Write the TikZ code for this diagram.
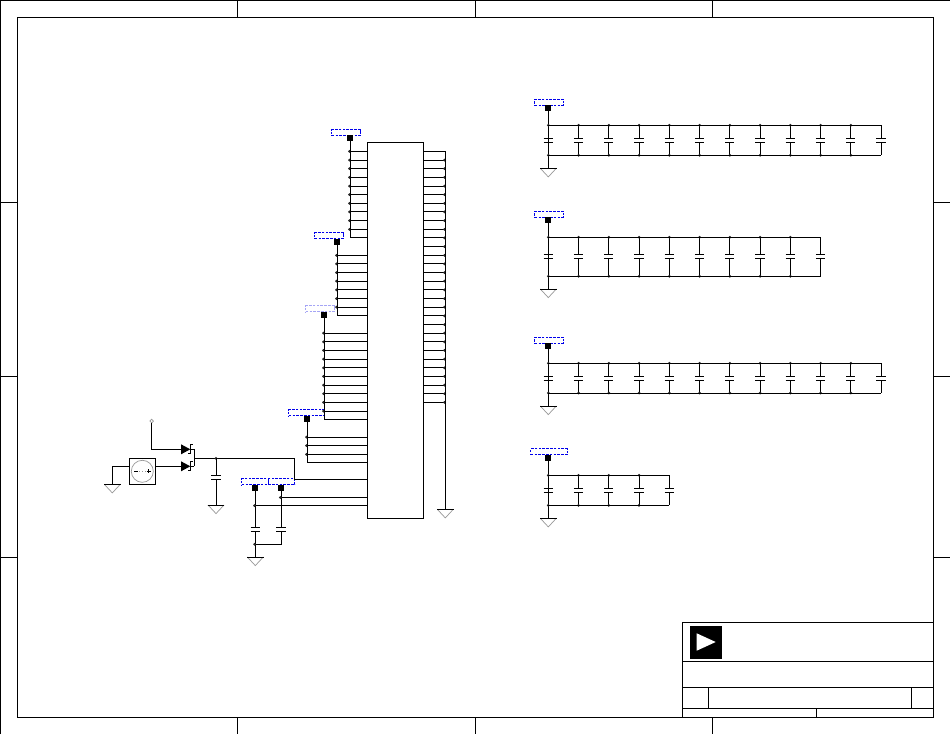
\documentclass[tikz,border=0pt]{standalone}
\usetikzlibrary{calc}
\definecolor{netblue}{RGB}{0,0,235}
\definecolor{paleblue}{RGB}{165,165,245}
\tikzset{
  x=1pt,y=-1pt,
  wire/.style={line width=1pt,black,line cap=butt,line join=miter},
  frameline/.style={line width=1pt,black},
  netbox/.style={draw=netblue,line width=1pt,dash pattern=on 2.6pt off 1.2pt,inner sep=0pt,minimum height=6pt,anchor=north west},
  palebox/.style={netbox,draw=paleblue},
  portsq/.style={fill=black,draw=none,inner sep=0pt,minimum size=6pt},
  chipbox/.style={draw,line width=1pt,inner sep=0pt,anchor=north west,minimum width=56pt,minimum height=376pt},
  junct/.style={fill=black!85,draw=none,circle,inner sep=0pt,minimum size=3pt},
  gndsym/.pic={
    \draw[line width=0.7pt,black!40] (-8,0) -- (0,8.6) -- (8,0);
    \draw[wire] (-8.3,0) -- (8.3,0);
  },
  capsym/.pic={
    \draw[wire] (-4.6,0) -- (4.6,0) (-4.6,4) -- (4.6,4);
  }
}
% pin y coordinate: 151.4 + 8.655 i
\newcommand{\piny}[1]{\pgfmathsetmacro{\py}{151.4+8.655*#1}}
% capacitor bank: y-label, y-square, y-top, y-plate, y-bottom, y-ground, last index, name
\newcommand{\capbank}[9]{%
  \node[netbox,minimum width=#8pt] (lab#1) at (#9,#2) {};
  \node[portsq] (sq#1) at (548.3,#3) {};
  \coordinate (gnd#1) at (548.3,#6);
  \pic at (gnd#1) {gndsym};
  \draw[wire] (sq#1.center) -- (gnd#1);
  \foreach \k in {0,...,#7}{
    \pgfmathsetmacro{\cx}{548.3+30.25*\k}
    \coordinate (t#1\k) at (\cx,#4);
    \coordinate (b#1\k) at (\cx,#5);
    \coordinate (pa#1\k) at (\cx,{#4+(#5-#4)/2-2});
    \coordinate (pb#1\k) at (\cx,{#4+(#5-#4)/2+2});
    \draw[wire] (t#1\k) -- (pa#1\k) (pb#1\k) -- (b#1\k);
    \pic at (pa#1\k) {capsym};
    \pgfmathtruncatemacro{\isl}{\k==#7?1:0}
    \ifnum\isl=0
      \node[junct] at (t#1\k) {};
      \node[junct] at (b#1\k) {};
    \fi
  }
  \draw[wire] (t#10) -- (t#1#7) (b#10) -- (b#1#7);
}
\begin{document}
\begin{tikzpicture}
\useasboundingbox (0,0) rectangle (950,734);
\fill[white] (0,0) rectangle (950,734);
% sheet frame
\draw[frameline] (0.5,734) -- (0.5,0.5) -- (950,0.5);
\draw[frameline] (17.3,17.3) rectangle (933.3,717.3);
\foreach \tx in {237.3,475.3,712.3}{
  \draw[frameline] (\tx,0.5) -- (\tx,17.3);
  \draw[frameline] (\tx,717.3) -- (\tx,734);
}
\foreach \ty in {202.7,376.3,557.3}{
  \draw[frameline] (0.5,\ty) -- (17.3,\ty);
  \draw[frameline] (933.3,\ty) -- (950,\ty);
}
% title block
\draw[frameline] (682.3,717.3) -- (682.3,622.3) -- (933.3,622.3);
\draw[frameline] (682.3,661.7) -- (933.3,661.7);
\draw[frameline] (682.3,687.3) -- (933.3,687.3);
\draw[frameline] (682.3,708.3) -- (933.3,708.3);
\draw[frameline] (708.3,687.3) -- (708.3,708.3);
\draw[frameline] (911.3,687.3) -- (911.3,708.3);
\draw[frameline] (816.3,708.3) -- (816.3,717.3);
\fill[black] (690,626) rectangle (722.3,658.7);
\fill[white] (696.7,633.3) -- (715.7,642) -- (696.7,650.7) -- cycle;
% chip
\node[chipbox] (chip) at (367.3,142.3) {};
% net ports
\node[netbox,minimum width=28.4pt] (lab1) at (331.3,129.3) {};
\node[portsq] (p1) at (350.3,138.3) {};
\node[netbox,minimum width=28.4pt] (lab2) at (314.3,232.3) {};
\node[portsq] (p2) at (337.3,242.3) {};
\node[palebox,minimum width=28.4pt] (lab3) at (305.3,305.4) {};
\node[portsq] (p3) at (324.3,315.3) {};
\node[netbox,minimum width=36pt] (lab4) at (288.3,409.4) {};
\node[portsq] (p4) at (307.3,419.3) {};
\node[netbox,minimum width=26.4pt] (lab5) at (241.3,478.3) {};
\node[netbox,minimum width=26.6pt] (lab6) at (267.7,478.3) {};
\node[portsq] (p5) at (255.3,488.3) {};
\node[portsq] (p6) at (281,488.3) {};
% left pin groups
\foreach \ga/\gb/\bx/\port in {0/10/350.3/p1,12/19/337.3/p2,21/31/324.3/p3,33/36/307.3/p4}{
  \foreach \i in {\ga,...,\gb}{
    \piny{\i}
    \coordinate (L\i) at (367.3,\py);
    \coordinate (B\i) at (\bx,\py);
    \draw[wire] (B\i) -- (L\i);
    \ifnum\i<\gb
      \node[junct] at ({\bx-0.8},\py) {};
    \fi
  }
  \draw[wire] (\port.center) -- (B\gb) -- ++(-0.5,0);
}
% right pins
\piny{0}\coordinate (R0bus) at (445.3,\py);
\foreach \i in {0,...,29}{
  \piny{\i}
  \coordinate (R\i) at (423.3,\py);
  \coordinate (RB\i) at (445.3,\py);
  \draw[wire] (R\i) -- (RB\i);
  \ifnum\i>0 \node[junct] at (444.5,\py) {}; \fi
}
\coordinate (rgnd) at (445.3,509.3);
\draw[wire] (R0bus) -- (rgnd);
\pic at (rgnd) {gndsym};
% low pins
\coordinate (L38) at (367.3,479.8);
\coordinate (L40) at (367.3,497.4);
\coordinate (L41) at (367.3,505.6);
% input source
\node[draw,line width=1pt,minimum size=26.3pt,inner sep=0pt] (src) at (142.3,471.3) {};
\node[circle,draw=black!40,line width=0.7pt,minimum size=22pt,inner sep=0pt] (srcc) at (142.3,471.3) {};
\draw[wire] (134,471.3) -- (137.6,471.3);
\draw[wire] (146.6,471.3) -- (151,471.3) (148.8,469.2) -- (148.8,473.4);
\draw[black!40,line width=0.7pt,dash pattern=on 1pt off 2pt] (139,471.3) -- (146,471.3);
\coordinate (g0) at (112.3,484.3);
\draw[wire] (src.west|-0,466.3) -- (112.3,466.3) -- (g0);
\pic at (g0) {gndsym};
\node[circle,draw=black!40,fill=white,line width=0.7pt,minimum size=3.6pt,inner sep=0pt] (tp) at (151.7,421) {};
% schottky diodes
\coordinate (d1a) at (181,449.3);
\coordinate (d2a) at (181,466.3);
\coordinate (d1c) at (190.3,449.3);
\coordinate (d2c) at (190.3,466.3);
\draw[wire] (tp.south) -- (151.7,449.3) -- (d1a);
\draw[wire] (src.east|-0,466.3) -- (d2a);
\foreach \d in {1,2}{
  \fill[black] (d\d a) ++(0,-5) -- (d\d c) -- ++(-9.3,5) -- cycle;
  \draw[wire] (d\d c) ++(2.6,-4.6) -- ++(-2.4,0) -- ++(0,9.2) -- ++(-2.2,0);
  \draw[wire] (d\d c) -- ++(4,0);
}
\coordinate (njoin) at (194.3,458.3);
\draw[wire] (194.3,449.3) -- (194.3,466.3);
\coordinate (ncorner) at (294.3,458.3);
\draw[wire] (njoin) -- (ncorner) -- (294.3,479.8) -- (L38);
% output capacitor
\coordinate (c0t) at (216,458.3);
\coordinate (c0g) at (216,505);
\node[junct] at (c0t) {};
\draw[wire] (c0t) -- (216,475.3) (216,479.3) -- (c0g);
\pic at (216,475.3) {capsym};
\pic at (c0g) {gndsym};
% decoupling pair
\coordinate (c1g) at (255.3,557);
\coordinate (c2b) at (281,544.3);
\draw[wire] (p5.center) -- (255.3,527.3) (255.3,531.3) -- (c1g);
\draw[wire] (p6.center) -- (281,527.3) (281,531.3) -- (c2b) -- (255.3,544.3);
\pic at (255.3,527.3) {capsym};
\pic at (281,527.3) {capsym};
\pic at (c1g) {gndsym};
\draw[wire] (281,497.4) -- (L40);
\draw[wire] (255.3,505.6) -- (L41);
\node[junct] at (280.4,497.4) {};
\node[junct] at (254.6,505.6) {};
\node[junct] at (254.6,544.3) {};
% capacitor banks
\capbank{A}{98.7}{108.3}{125.3}{155.3}{168.3}{11}{28.4}{534.3}
\capbank{B}{210.7}{220}{237.3}{276.3}{289}{9}{28.4}{534.3}
\capbank{C}{336.7}{345.7}{363.3}{393}{406}{11}{28.4}{534.3}
\capbank{D}{448.3}{458.3}{475.3}{505.3}{518.3}{4}{36.4}{530.3}
\end{tikzpicture}
\end{document}
